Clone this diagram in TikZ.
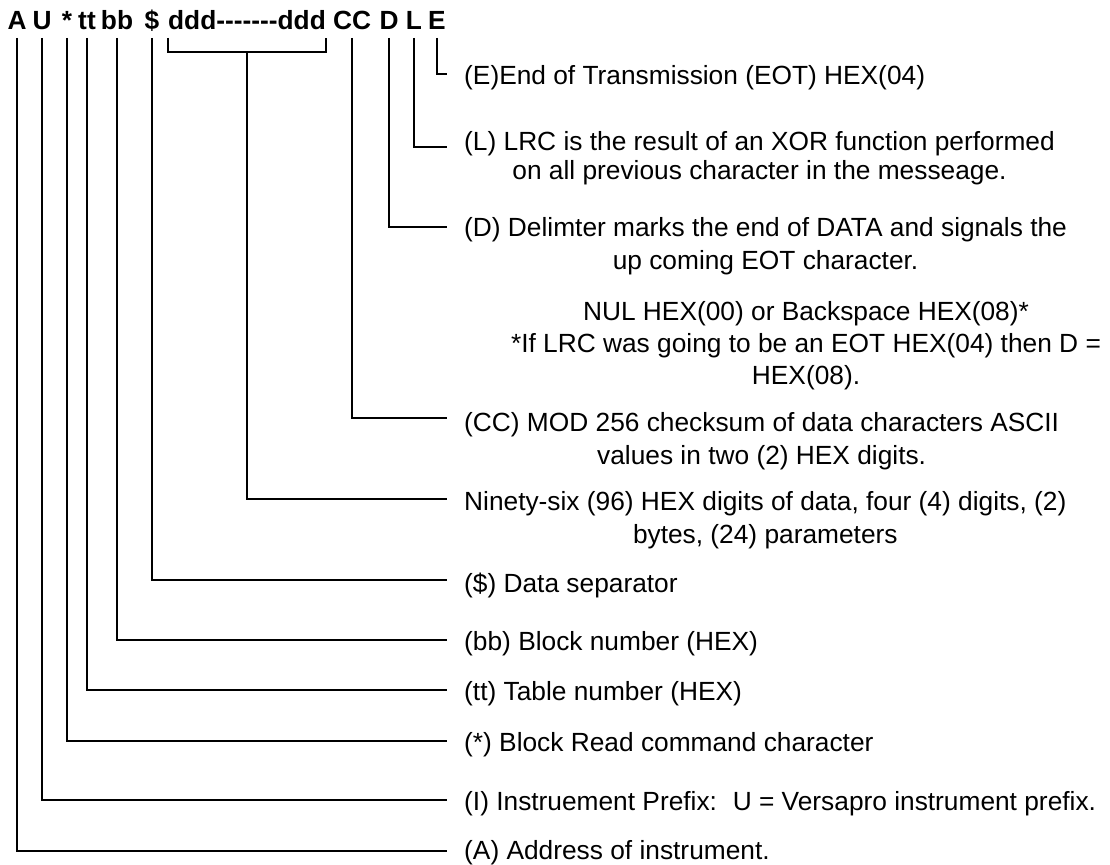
\documentclass[tikz,border=0pt]{standalone}
\usepackage{fontspec}
\setmainfont{Liberation Sans}
\begin{document}
\begin{tikzpicture}[x=1pt,y=-1pt,
  tok/.style={font=\fontsize{26.3}{31}\selectfont\bfseries, inner sep=0pt, anchor=base},
  lbl/.style={font=\fontsize{26.3}{31}\selectfont, inner xsep=17pt, inner ysep=0pt, anchor=west},
  lblm/.style={lbl, anchor=north west, align=center},
  conn/.style={draw=black, line width=1.6pt}]
\useasboundingbox (0,0) rectangle (1110,864);
% title tokens
\node[tok] (tA) at (17,29.5) {A};
\node[tok] (tU) at (42,29.5) {U};
\node[tok] (tStar) at (67,29.5) {*};
\node[tok] (tT) at (87,29.5) {tt};
\node[tok] (tB) at (117,29.5) {bb};
\node[tok] (tS) at (152,29.5) {\$};
\node[tok] (tData) at (247,29.5) {ddd-{}-{}-{}-{}-{}-{}-ddd};
\node[tok] (tC) at (352,29.5) {CC};
\node[tok] (tDl) at (389,29.5) {D};
\node[tok] (tL) at (414,29.5) {L};
\node[tok] (tE) at (437,29.5) {E};
% labels
\node[lbl] (lE) at (447,78) {(E)End of Transmission (EOT) HEX(04)};
\node[lblm, font=\fontsize{26.3}{29}\selectfont] (lL) at (447,130.8)
  {(L) LRC is the result of an XOR function performed\\on all previous character in the messeage.};
\node[lblm, font=\fontsize{26.3}{33}\selectfont] (lD) at (447,216.8)
  {(D) Delimter marks the end of DATA and signals the\\up coming EOT character.};
\node[font=\fontsize{26.3}{32}\selectfont, align=center, anchor=north, inner sep=0pt] (lN) at (806,300.8)
  {NUL HEX(00) or Backspace HEX(08)*\\*If LRC was going to be an EOT HEX(04) then D =\\HEX(08).};
\node[lblm, font=\fontsize{26.3}{33}\selectfont] (lC) at (447,411.8)
  {(CC) MOD 256 checksum of data characters ASCII\\values in two (2) HEX digits.};
\node[lblm, font=\fontsize{26.3}{33}\selectfont] (l9) at (447,490.8)
  {Ninety-six (96) HEX digits of data, four (4) digits, (2)\\bytes, (24) parameters};
\node[lbl] (lS) at (447,585) {(\$) Data separator};
\node[lbl] (lB) at (447,644) {(bb) Block number (HEX)};
\node[lbl] (lT) at (447,694) {(tt) Table number (HEX)};
\node[lbl] (lR) at (447,745) {(*) Block Read command character};
\node[lbl] (lI) at (447,804) {(I) Instruement Prefix:\hspace{6pt} U = Versapro instrument prefix.};
\node[lbl] (lA) at (447,853) {(A) Address of instrument.};
% connectors
\draw[conn] ([yshift=-8.5pt]tE.base) |- ([yshift=4pt]lE.west);
\draw[conn] ([yshift=-8.5pt]tL.base) |- ([yshift=-16.2pt]lL.north west);
\draw[conn] ([yshift=-8.5pt]tDl.base) |- ([yshift=-10.2pt]lD.north west);
\draw[conn] ([yshift=-8.5pt]tC.base) |- ([yshift=-6.2pt]lC.north west);
\draw[conn] ([yshift=-8.5pt]tData.base west) -- ([yshift=-22.5pt]tData.base west)
  -- ([yshift=-22.5pt]tData.base east) -- ([yshift=-8.5pt]tData.base east);
\draw[conn] ([yshift=-22.5pt]tData.base) |- ([yshift=-8.2pt]l9.north west);
\draw[conn] ([yshift=-8.5pt]tS.base) |- ([yshift=5pt]lS.west);
\draw[conn] ([yshift=-8.5pt]tB.base) |- ([yshift=4pt]lB.west);
\draw[conn] ([yshift=-8.5pt]tT.base) |- ([yshift=4pt]lT.west);
\draw[conn] ([yshift=-8.5pt]tStar.base) |- ([yshift=4pt]lR.west);
\draw[conn] ([yshift=-8.5pt]tU.base) |- ([yshift=4pt]lI.west);
\draw[conn] ([yshift=-8.5pt]tA.base) |- ([yshift=2pt]lA.west);
\end{tikzpicture}
\end{document}
